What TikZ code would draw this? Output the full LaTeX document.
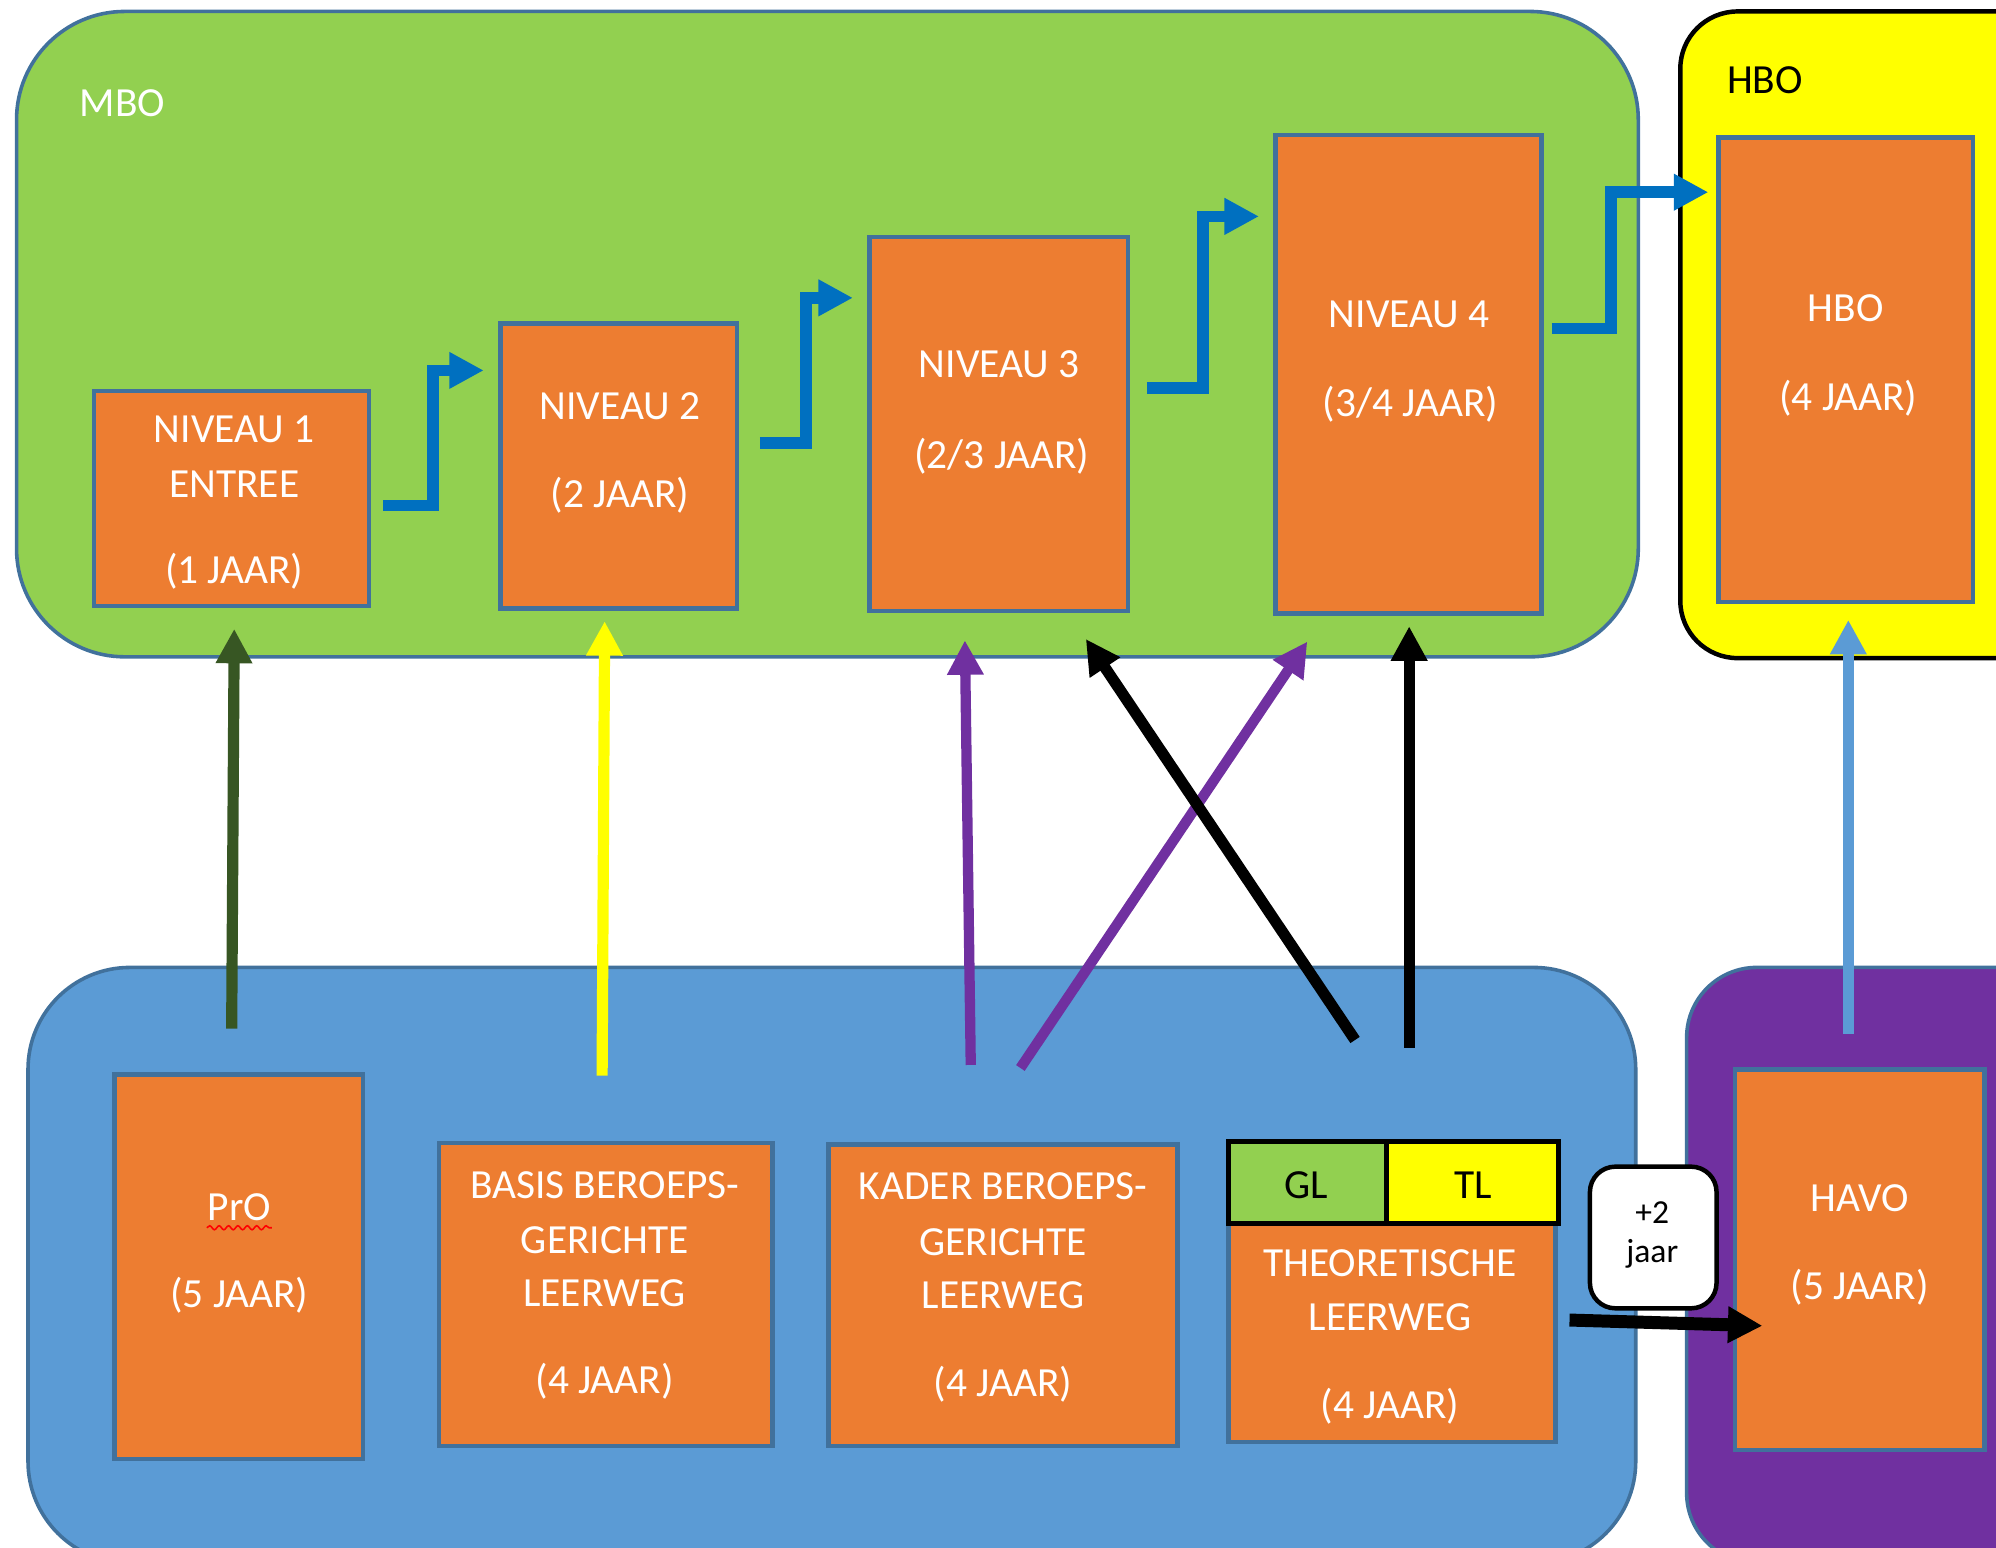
\documentclass[tikz,border=0pt]{standalone}
\usepackage{fontspec}
\setmainfont{Carlito}
\usetikzlibrary{arrows.meta,fit,calc,decorations.pathmorphing}
\definecolor{cgreen}{HTML}{92D050}
\definecolor{corange}{HTML}{ED7D31}
\definecolor{cborder}{HTML}{41719C}
\definecolor{cblue}{HTML}{5B9BD5}
\definecolor{cpurple}{HTML}{7030A0}
\definecolor{cstep}{HTML}{0070C0}
\definecolor{cdkgreen}{HTML}{375623}
\definecolor{cyellow}{HTML}{FFFF00}
\begin{document}
\begin{tikzpicture}[x=0.01cm,y=-0.01cm,
  font=\fontsize{9.25pt}{11pt}\selectfont,
  region/.style={inner sep=0pt, outer sep=0pt, line width=0.8pt, draw=cborder},
  obox/.style={inner sep=0pt, outer sep=0pt, fill=corange, draw=cborder, line width=1pt},
  hdr/.style={inner sep=0pt, outer sep=0pt, draw=black, line width=1.1pt},
  wtxt/.style={text=white, anchor=base, inner sep=0pt},
  ktxt/.style={text=black, anchor=base, inner sep=0pt},
  tipA/.style={-{Triangle[length=7.7pt,width=7.7pt]}},
  steparrow/.style={draw=cstep, line width=2.6pt, line join=miter, tipA},
  uparrow/.style={line width=2.5pt, tipA},
]
\useasboundingbox (0,0) rectangle (1568,1216);
\clip (0,0) rectangle (1568,1216);

% regions
\node[region, fill=cgreen, rounded corners=0.85cm, fit={(13,9) (1287,516)}] (mbo) {};
\node[region, fill=cyellow, draw=black, line width=1pt, rounded corners=0.45cm, fit={(1320,9) (1650,517)}] (hboreg) {};
\node[region, fill=cblue, rounded corners=0.8cm, fit={(22,760) (1285,1228)}] (vmbo) {};
\node[region, fill=cpurple, rounded corners=0.55cm, fit={(1325,760) (1650,1228)}] (havoreg) {};

\node[wtxt, anchor=base west] (mbol) at (62,91.5) {MBO};
\node[ktxt, anchor=base west] (hbol) at (1356,73.5) {HBO};

% orange boxes
\node[obox, fit={(74,307) (290,476)}] (n1) {};
\node[obox, fit={(393,254) (579,478)}] (n2) {};
\node[obox, fit={(683,186) (886,480)}] (n3) {};
\node[obox, fit={(1002,106) (1211,482)}] (n4) {};
\node[obox, fit={(1350,108) (1550,473)}] (hbo) {};
\node[obox, fit={(90,844) (285,1146)}] (pro) {};
\node[obox, fit={(345,898) (607,1136)}] (basis) {};
\node[obox, fit={(651,899) (925,1136)}] (kader) {};
\node[obox, fit={(965,961) (1222,1133)}] (tl) {};
\node[obox, fit={(1363,840) (1559,1139)}] (havo) {};
\node[hdr, fill=cgreen, fit={(965,897) (1089,961)}] (glh) {};
\node[hdr, fill=cyellow, fit={(1089,897) (1224,961)}] (tlh) {};

% texts
\node[wtxt] (t11) at (184,347.5) {NIVEAU 1};
\node[wtxt] (t12) at (184,390.5) {ENTREE};
\node[wtxt] (t13) at (184,458.5) {(1 JAAR)};
\node[wtxt] (t21) at (487,329.5) {NIVEAU 2};
\node[wtxt] (t22) at (487,399) {(2 JAAR)};
\node[wtxt] (t31) at (785,296.5) {NIVEAU 3};
\node[wtxt] (t32) at (787,368) {(2/3 JAAR)};
\node[wtxt] (t41) at (1107,257) {NIVEAU 4};
\node[wtxt] (t42) at (1108,327.5) {(3/4 JAAR)};
\node[wtxt] (th1) at (1450,252.5) {HBO};
\node[wtxt] (th2) at (1452,322.5) {(4 JAAR)};
\node[wtxt] (tp1) at (188,958.5) {PrO};
\node[wtxt] (tp2) at (188,1027.5) {(5 JAAR)};
\node[wtxt] (tb1) at (475,941.5) {BASIS BEROEPS-};
\node[wtxt] (tb2) at (475,984.5) {GERICHTE};
\node[wtxt] (tb3) at (475,1026.5) {LEERWEG};
\node[wtxt] (tb4) at (475,1095) {(4 JAAR)};
\node[wtxt] (tk1) at (788,942.5) {KADER BEROEPS-};
\node[wtxt] (tk2) at (788,986) {GERICHTE};
\node[wtxt] (tk3) at (788,1028) {LEERWEG};
\node[wtxt] (tk4) at (788,1097) {(4 JAAR)};
\node[ktxt] (tgl) at (1026,941.5) {GL};
\node[ktxt] (ttl) at (1157,941.5) {TL};
\node[wtxt] (tt1) at (1092,1002.5) {THEORETISCHE};
\node[wtxt] (tt2) at (1092,1045) {LEERWEG};
\node[wtxt] (tt3) at (1092,1114) {(4 JAAR)};
\node[wtxt] (tv1) at (1461,951.5) {HAVO};
\node[wtxt] (tv2) at (1461,1021) {(5 JAAR)};

\draw[red, line width=0.35pt, decorate, decoration={snake, amplitude=0.45pt, segment length=2.1pt}]
  ($(tp1.base west)+(0,6)$) -- ($(tp1.base east)+(0,6)$);

% step arrows
\draw[steparrow] ($(n1.north east)+(11,90)$) -| ($(n2.north west)+(-53,37)$) -- ($(n2.north west)+(-13,37)$);
\draw[steparrow] ($(n2.north east)+(18,94)$) -| ($(n3.north west)+(-50,48)$) -- ($(n3.north west)+(-13,48)$);
\draw[steparrow] ($(n3.north east)+(15,119)$) -| ($(n4.north west)+(-57,64)$) -- ($(n4.north west)+(-13,64)$);
\draw[steparrow] ($(n4.north east)+(8,152)$) -| ($(hbo.north west)+(-84.5,43)$) -- ($(hbo.north west)+(-8,43)$);

% up arrows
\draw[uparrow, draw=cdkgreen] ($(pro.north)+(-5.5,-36)$) -- ($(n1.south)+(2,18)$);
\draw[uparrow, draw=cyellow] ($(basis.north)+(-3,-53)$) -- ($(n2.south)+(-11,10)$);
\draw[uparrow, draw=cpurple, line width=2.3pt] ($(kader.north)+(-25.4,-62.4)$) -- ($(n3.south)+(-26.5,23)$);
\draw[uparrow, draw=cpurple, line width=2.3pt] ($(kader.north)+(13.6,-60)$) -- ($(n4.south)+(-79.5,22)$);
\draw[uparrow, draw=black] ($(tl.north)+(-29,-144)$) -- ($(n3.south)+(68.5,22)$);
\draw[uparrow, draw=black] ($(tl.north)+(13.5,-138)$) -- ($(n4.south)+(0.5,10)$);
\draw[uparrow, draw=cblue, line width=2.4pt] ($(havo.north)+(-9,-28)$) -- ($(hbo.south)+(2,14)$);
\draw[uparrow, draw=black, line width=2.9pt] ($(tl.east)+(11,-10)$) -- ($(havo.west)+(21.5,52)$);

% +2 jaar
\node[fit={(1249,916.5) (1348.5,1027.8)}, inner sep=0pt, rounded corners=0.2cm, fill=white, draw=black, line width=1pt] (plus) {};
\node[ktxt, font=\fontsize{7.5pt}{9pt}\selectfont] (tpl1) at (1298,961) {+2};
\node[ktxt, font=\fontsize{7.5pt}{9pt}\selectfont] (tpl2) at (1298,992) {jaar};
\end{tikzpicture}
\end{document}
